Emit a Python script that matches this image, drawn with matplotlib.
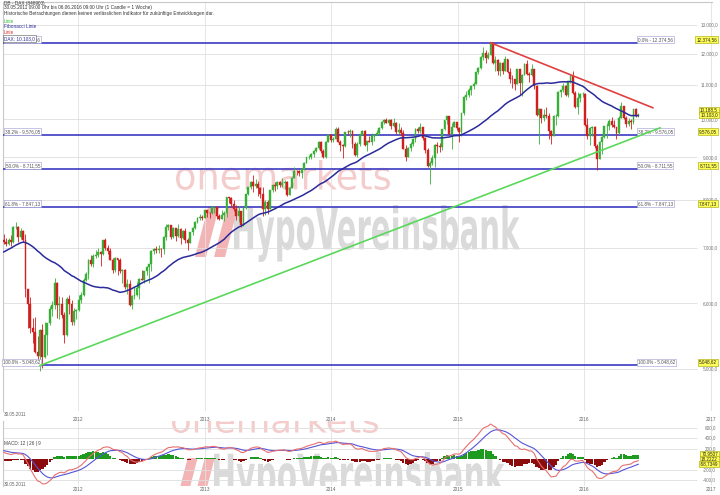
import matplotlib
matplotlib.use("Agg")
import matplotlib.pyplot as plt
import matplotlib.dates as mdates
import numpy as np
import pandas as pd
from matplotlib.ticker import NullLocator
from matplotlib.textpath import TextPath
from matplotlib.patches import PathPatch, Polygon
from matplotlib.font_manager import FontProperties
from matplotlib.transforms import Affine2D, blended_transform_factory

plt.rcParams['font.family'] = ['Liberation Sans', 'DejaVu Sans']

# Wochenschlusskurse DAX ab 05.07.2010 (Vorlauf fuer GD und MACD)
close_vorlauf = [6066, 5991, 6160, 6148, 6324, 6110, 6005, 5924, 6135, 6080, 6208, 6299, 6211,
                 6299, 6442, 6605, 6601, 6754, 6777, 6829, 6850, 6947, 7007, 6982, 6999, 6914,
                 6947, 7075, 7062, 7102, 7216, 7340, 7426, 7185, 7178, 7044, 6664, 6946, 7176,
                 7217, 7110, 7263, 7514, 7492, 7449, 7227, 7164]

# sichtbare Kerzen ab 30.05.2011 (1 Candle = 1 Woche)
close_2011 = [7109, 7069, 7164, 7122, 7419, 7420, 7220, 7344, 7158, 6236, 5997, 5603, 5538, 5246,
              5189, 5574, 5164, 5502, 5676, 5912, 5970, 6346, 5966, 5986, 5801, 5493, 6080, 5987,
              5702, 5878, 5898]
high_2011 = [7275, 7185, 7200, 7250, 7430, 7520, 7440, 7390, 7365, 7280, 6250, 6100, 5760, 5780,
             5480, 5580, 5660, 5700, 5680, 5960, 6040, 6430, 6360, 6120, 6100, 5850, 6110, 6140,
             6060, 5920, 5900]
low_2011 = [7085, 7040, 7050, 7030, 7100, 7380, 7110, 7180, 7110, 6100, 5610, 5520, 5380, 5230,
            5070, 4966, 5010, 5150, 5200, 5650, 5790, 5900, 5760, 5740, 5760, 5370, 5480, 5830,
            5650, 5650, 5750]

close_2012 = [6057, 6143, 6404, 6512, 6766, 6693, 6849, 6865, 6922, 6880, 7158, 6996, 6947, 6775,
              6584, 6801, 6762, 6561, 6580, 6272, 6339, 5978, 6131, 6139, 6263, 6416, 6410, 6558,
              6630, 6690, 6944, 6971, 6949, 6972, 6971, 7214, 7412, 7451, 7216, 7398, 7233, 7381,
              7203, 7335, 7163, 7101, 7309, 7406, 7518, 7614, 7636, 7612, 7776]
high_2012 = [6140, 6200, 6440, 6540, 6780, 6870, 6890, 6960, 6990, 6930, 7160, 7190, 7060, 7000,
             6800, 6820, 6810, 6800, 6600, 6600, 6420, 6400, 6140, 6280, 6360, 6430, 6580, 6560,
             6650, 6700, 6950, 7000, 7040, 7060, 7000, 7230, 7480, 7480, 7460, 7420, 7400, 7480,
             7390, 7350, 7400, 7200, 7320, 7420, 7540, 7620, 7680, 7670, 7780]
low_2012 = [5880, 6000, 6130, 6380, 6420, 6650, 6640, 6800, 6830, 6650, 6860, 6950, 6880, 6760,
            6520, 6540, 6490, 6530, 6350, 6250, 6150, 5960, 5910, 6080, 6130, 6080, 6400, 6340,
            6490, 6350, 6560, 6880, 6910, 6900, 6830, 6890, 7150, 7360, 7180, 7200, 7140, 7210,
            7070, 7170, 7100, 6950, 7090, 7260, 7380, 7500, 7560, 7560, 7600]

close_2013 = [7715, 7702, 7833, 7833, 7652, 7593, 7661, 7708, 8058, 8042, 7912, 7795, 7658, 7745,
              7459, 7815, 8122, 8278, 8397, 8305, 8349, 8255, 8127, 7790, 7959, 7806, 8212, 8331,
              8303, 8398, 8338, 8391, 8416, 8103, 8275, 8510, 8675, 8665, 8622, 8725, 8869, 9001,
              9010, 9078, 9168, 9225, 9405, 9172, 9006, 9400, 9589, 9435]
high_2013 = [7780, 7740, 7860, 7870, 7850, 7700, 7780, 7760, 8060, 8070, 8060, 7990, 7890, 7870,
             7750, 7830, 8130, 8290, 8420, 8560, 8480, 8420, 8300, 8300, 8000, 8000, 8220, 8340,
             8400, 8420, 8420, 8490, 8460, 8420, 8280, 8530, 8770, 8700, 8690, 8740, 8890, 9010,
             9060, 9110, 9180, 9270, 9410, 9420, 9210, 9410, 9600, 9600]
low_2013 = [7620, 7610, 7680, 7720, 7580, 7560, 7580, 7540, 7620, 7920, 7850, 7760, 7570, 7530,
            7420, 7430, 7800, 8100, 8250, 8180, 8260, 8090, 8030, 7650, 7660, 7700, 7800, 8180,
            8200, 8250, 8290, 8300, 8240, 8080, 8100, 8270, 8500, 8570, 8550, 8500, 8700, 8850,
            8950, 8970, 9000, 9130, 9220, 9100, 8990, 8980, 9390, 9390]

close_2014 = [9473, 9743, 9393, 9306, 9301, 9663, 9657, 9692, 9350, 9056, 9342, 9588, 9695, 9315,
              9409, 9402, 9556, 9581, 9629, 9768, 9943, 9987, 9912, 9988, 9815, 9906, 9666, 9720,
              9644, 9210, 9009, 9225, 9339, 9470, 9747, 9691, 9799, 9490, 9195, 8788, 8850, 8988,
              9326, 9291, 9252, 9732, 9980, 10087, 9594, 9787, 9923, 9764]
high_2014 = [9520, 9790, 9780, 9450, 9330, 9670, 9720, 9730, 9700, 9400, 9390, 9600, 9720, 9700,
             9430, 9550, 9620, 9600, 9720, 9780, 9950, 10000, 10050, 10020, 10000, 10050, 9920,
             9890, 9800, 9700, 9320, 9260, 9400, 9510, 9760, 9790, 9890, 9800, 9520, 9250, 8900,
             9060, 9330, 9400, 9370, 9740, 9990, 10090, 10100, 9890, 9950, 9940]
low_2014 = [9380, 9470, 9380, 9160, 8990, 9270, 9570, 9520, 9250, 9030, 9010, 9290, 9580, 9300,
            9170, 9380, 9310, 9420, 9570, 9580, 9740, 9870, 9900, 9850, 9750, 9800, 9610, 9600,
            9580, 9200, 8900, 9000, 9160, 9290, 9380, 9640, 9630, 9450, 9120, 8770, 8355, 8800,
            8760, 9110, 9140, 9180, 9720, 9880, 9570, 9220, 9780, 9700]

close_2015 = [9648, 10168, 10649, 10694, 10846, 10963, 11050, 11401, 11551, 11901, 12039, 11868,
              11967, 12375, 11689, 11811, 11454, 11709, 11447, 11815, 11413, 11197, 11196, 11040,
              11492, 11058, 11316, 11673, 11347, 11308, 11490, 10985, 10124, 10298, 10038, 10123,
              10104, 9688, 9553, 10097, 10104, 10795, 10850, 10988, 10708, 11119, 11293, 10752,
              10340, 10608, 10727, 10743]
high_2015 = [9800, 10180, 10660, 10810, 10910, 11000, 11100, 11410, 11570, 11920, 12220, 12130,
             12070, 12391, 12390, 11920, 11830, 11730, 11720, 11920, 11820, 11530, 11320, 11200,
             11520, 11500, 11350, 11690, 11800, 11400, 11670, 11520, 10990, 10330, 10300, 10300,
             10340, 10180, 9700, 10120, 10140, 10810, 10850, 11060, 10990, 11120, 11300, 11430,
             10830, 10800, 10760, 10800]
low_2015 = [9380, 9560, 10120, 10560, 10650, 10700, 10870, 11040, 11340, 11520, 11800, 11700,
            11820, 11960, 11660, 11450, 11320, 11280, 11350, 11440, 11380, 11060, 10900, 10850,
            11030, 10710, 10680, 11300, 11310, 11100, 11290, 10870, 10100, 9338, 9900, 9950,
            10050, 9470, 9330, 9550, 9840, 10060, 10650, 10780, 10680, 10640, 11060, 10730,
            10320, 10140, 10490, 10640]

close_2016 = [9849, 9545, 9765, 9798, 9286, 8967, 9388, 9513, 9824, 9831, 9950, 9851, 9794, 9622,
              10051, 10374, 10038, 9870, 9952, 9917, 10286, 10103, 10130]
high_2016 = [10760, 10050, 9800, 9830, 9820, 9350, 9430, 9550, 9830, 9900, 10000, 10080, 9990,
             9800, 10090, 10490, 10390, 10100, 10030, 10000, 10300, 10320, 10180]
low_2016 = [9820, 9460, 9320, 9540, 9230, 8699, 8960, 9080, 9490, 9500, 9700, 9800, 9770, 9480,
            9610, 10040, 10010, 9790, 9810, 9730, 9880, 10070, 10060]

# Fibonacci-Retracement und Trendlinien
fib_levels = [12374.56, 9576.05, 8711.55, 7847.13, 5048.62]
fib_labels = ["0.0% - 12.374,56", "38.2% - 9.576,05", "50.0% - 8.711,55",
              "61.8% - 7.847,13", "100.0% - 5.048,62"]
fib_values = ["12.374,56", "9.576,05", "8.711,55", "7.847,13", "5.048,62"]
green_dates = ["2011-09-12", "2016-08-08"]
green_prices = [5048.62, 9770]
red_dates = ["2015-04-06", "2016-07-18"]
red_prices = [12374.56, 10330]

price_grid = [13000, 12000, 11000, 10000, 9000, 8000, 7000, 6000, 5000]
price_grid_labels = ["13.000,0", "12.000,0", "11.000,0", "10.000,0", "9.000,0",
                     "8.000,0", "7.000,0", "6.000,0", "5.000,0"]
macd_grid = [600, 400, 200, -200, -400]
macd_grid_labels = ["600,0", "400,0", "200,0", "-200,0", "-400,0"]
years = ["2012", "2013", "2014", "2015", "2016", "2017"]

ma_period = 40

# ---------------------------------------------------------------
W, H = 720, 495
def fx(x):
    return x / W
def fy(y):
    return 1 - y / H

close_all = close_vorlauf + close_2011 + close_2012 + close_2013 + close_2014 + close_2015 + close_2016
highs = np.array(high_2011 + high_2012 + high_2013 + high_2014 + high_2015 + high_2016, float)
lows = np.array(low_2011 + low_2012 + low_2013 + low_2014 + low_2015 + low_2016, float)

dates_all = pd.date_range("2010-07-05", periods=len(close_all), freq="W-MON")
s = pd.Series(close_all, index=dates_all, dtype=float)
ma = s.rolling(ma_period, min_periods=1).mean()
macd = s.ewm(span=12, adjust=False).mean() - s.ewm(span=26, adjust=False).mean()
signal = macd.ewm(span=9, adjust=False).mean()
hist = macd - signal

vis = np.asarray(dates_all >= "2011-05-30")
idx = np.where(vis)[0]
d = mdates.date2num(dates_all[vis].to_pydatetime())
c = s.values[idx]
o = s.values[idx - 1]
highs = np.maximum(highs, np.maximum(o, c))
lows = np.minimum(lows, np.minimum(o, c))

fig = plt.figure(figsize=(7.2, 4.95), dpi=100)
ax = fig.add_axes([fx(3), fy(411), 709 / W, 409 / H])
ax2 = fig.add_axes([fx(3), fy(486), 709 / W, 65 / H])
x0 = mdates.date2num(pd.Timestamp("2011-05-28"))
x1 = mdates.date2num(pd.Timestamp("2017-01-05"))
xg = mdates.date2num(pd.Timestamp("2016-11-22"))
x_end = mdates.date2num(pd.Timestamp("2016-06-06"))
year_pos = mdates.date2num(pd.to_datetime([y + "-01-01" for y in years]).to_pydatetime())

for a in (ax, ax2):
    a.set_xlim(x0, x1)
    a.set_xticks(year_pos)
    a.set_xticklabels(years)
    a.tick_params(axis="x", length=0, labelsize=3.4, colors="#666666")
    a.tick_params(axis="y", length=0, labelleft=False)
    a.grid(axis="x", color="#e2e2e2", lw=0.6)
    a.set_axisbelow(True)
    for sp in a.spines.values():
        sp.set_visible(False)
    a.spines["left"].set_visible(True)
    a.spines["left"].set_color("#c8c8c8")
    a.spines["left"].set_linewidth(0.8)
ax.spines["top"].set_visible(True)
ax.spines["top"].set_color("#c8c8c8")
ax.tick_params(axis="x", pad=4)
ax2.tick_params(axis="x", pad=1)

ax.set_yscale("log")
ax.set_ylim(4449, 13858)
ax.yaxis.set_major_locator(NullLocator())
ax.yaxis.set_minor_locator(NullLocator())
ax2.set_ylim(-514, 724)
ax2.set_yticks([])


# Wasserzeichen
def stamp(a, text, left, right, top, bottom, color, weight="normal"):
    tp = TextPath((0, 0), text, size=1, prop=FontProperties(family="DejaVu Sans", weight=weight))
    ext = tp.get_extents()
    sx = (right - left) / ext.width
    sy = (bottom - top) / ext.height
    tr = Affine2D().translate(-ext.x0, -ext.y0).scale(sx, sy).translate(left, H - bottom)
    a.add_artist(PathPatch(tp, transform=tr, fc=color, ec="none", zorder=0.5))


def logo(a, left, top, bottom, color):
    hgt = bottom - top
    for off in (0, 0.38 * hgt):
        pts = [(left + off, H - bottom), (left + off + 0.22 * hgt, H - bottom),
               (left + off + 0.48 * hgt, H - top), (left + off + 0.26 * hgt, H - top)]
        a.add_artist(Polygon(pts, closed=True, transform=Affine2D(), fc=color, ec="none", zorder=0.5))


stamp(ax, "onemarkets", 176, 390, 160, 190, "#f4cccc")
stamp(ax, "HypoVereinsbank", 234, 520, 205, 262, "#dadada", "bold")
logo(ax, 195, 207, 257, "#f2b4b4")
stamp(ax2, "onemarkets", 172, 378, 407, 433, "#f4cccc")
stamp(ax2, "HypoVereinsbank", 214, 505, 452, 506, "#dadada", "bold")
logo(ax2, 176, 458, 503, "#f2b4b4")

# Raster Kursachse
ax.hlines(price_grid, x0, xg, color="#dedede", lw=0.6, zorder=0.8)
bt = blended_transform_factory(fig.transFigure, ax.transData)
for v, lab in zip(price_grid, price_grid_labels):
    ax.text(fx(718), v, lab, transform=bt, ha="right", va="center", fontsize=3.3, color="#777777")

# Fibonacci
ax.hlines(fib_levels, x0, x_end, color="#3b3bc4", lw=1.2, zorder=3)
box = dict(boxstyle="square,pad=0.2", fc="white", ec="#9a9ad0", lw=0.4)
ybox = dict(boxstyle="square,pad=0.2", fc="#ffff55", ec="#a0a000", lw=0.4)
for v, lab, val in zip(fib_levels, fib_labels, fib_values):
    ax.text(fx(40), v * 1.002, lab, transform=bt, ha="right", va="bottom", fontsize=3.3,
            color="#555555", bbox=box, zorder=6)
    ax.text(fx(638), v * 1.002, lab, transform=bt, ha="left", va="bottom", fontsize=3.3,
            color="#555555", bbox=box, zorder=6)
    ax.text(fx(717), v * 1.002, val, transform=bt, ha="right", va="bottom", fontsize=3.3,
            color="#222222", bbox=ybox, zorder=6)

# Kerzen
col = np.where(c >= o, "#38b038", "#d01f1f")
ax.vlines(d, lows, highs, colors=col, lw=0.6, zorder=4)
ax.bar(d, np.abs(c - o), bottom=np.minimum(o, c), width=5.5, color=col, edgecolor=col,
       lw=0.3, zorder=5)

# gleitender Durchschnitt und Trendlinien
ax.plot(d, ma.values[idx], color="#2a2a9c", lw=1.1, zorder=6)
ax.plot(mdates.date2num(pd.to_datetime(green_dates).to_pydatetime()), green_prices,
        color="#5ad85a", lw=1.2, zorder=6)
ax.plot(mdates.date2num(pd.to_datetime(red_dates).to_pydatetime()), red_prices,
        color="#e04040", lw=1.2, zorder=6)

fig.text(fx(718), fy(110), "10.188,5", ha="right", va="center", fontsize=3.3, color="#222222", bbox=ybox)
fig.text(fx(718), fy(115), "10.103,0", ha="right", va="center", fontsize=3.3, color="#222222", bbox=ybox)

# MACD
hv = hist.values[idx]
ax2.bar(d, hv, width=6.5, color=np.where(hv >= 0, "#1e9a1e", "#8a0c0c"), zorder=2)
ax2.plot(d, signal.values[idx], color="#5555d8", lw=0.8, zorder=3)
ax2.plot(d, macd.values[idx], color="#e87070", lw=0.8, zorder=3)
ax2.hlines(macd_grid, x0, xg, color="#dedede", lw=0.6, zorder=0.8)
bt2 = blended_transform_factory(fig.transFigure, ax2.transData)
for v, lab in zip(macd_grid, macd_grid_labels):
    ax2.text(fx(716), v, lab, transform=bt2, ha="right", va="center", fontsize=3.3, color="#777777")
for yy, lab in zip([454, 459, 464], ["70,9507", "18,2222", "-58,7349"]):
    fig.text(fx(718), fy(yy), lab, ha="right", va="center", fontsize=3.3, color="#222222", bbox=ybox)
fig.text(fx(4), fy(444), "MACD: 12 | 26 | 9", fontsize=3.3, color="#444444", va="center")

# Kopfzeilen und Legende
fig.text(fx(4), fy(414), "30.05.2011", fontsize=3.3, color="#666666", va="center")
fig.text(fx(4), fy(485), "30.05.2011", fontsize=3.3, color="#666666", va="center")
fig.text(fx(4), fy(3), "DB - DAX (846900)", fontsize=3.4, color="#333333", va="center")
fig.text(fx(4), fy(7.5), "30.05.2011 09:00 Uhr bis 06.06.2016 09:00 Uhr (1 Candle = 1 Woche)",
         fontsize=3.4, color="#333333", va="center")
fig.text(fx(4), fy(13), "Historische Betrachtungen dienen keinen verlässlichen Indikator für "
         "zukünftige Entwicklungen dar.", fontsize=3.4, color="#333333", va="center")
fig.text(fx(4), fy(21.5), "Linie", fontsize=3.4, color="#33bb33", va="center")
fig.text(fx(4), fy(27), "Fibonacci Linie", fontsize=3.4, color="#2a2a9c", va="center")
fig.text(fx(4), fy(32.5), "Linie", fontsize=3.4, color="#dd3333", va="center")
fig.text(fx(4), fy(38.5), "DAX: 10.103,0", fontsize=3.4, color="#2a2a9c", va="center",
         bbox=dict(boxstyle="square,pad=0.2", fc="white", ec="#555555", lw=0.4), zorder=10)

fig.savefig("out.png", dpi=100)
